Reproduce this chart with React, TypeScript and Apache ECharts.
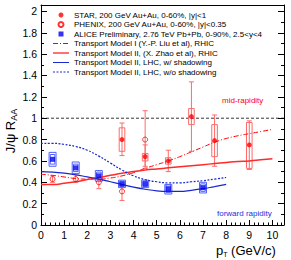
import React, { useEffect, useRef } from "react";
import * as echarts from "echarts";

// ---------------- data ----------------
const starPt = [3.5, 4.5, 5.5, 6.5, 7.5, 9];
const starVal = [0.8, 0.64, 0.6, 1.015, 0.79, 0.75];
const starStatLo = [0.65, 0.53, 0.5, 0.69, 0.55, 0.52];
const starStatHi = [0.955, 0.75, 0.7, 1.34, 1.03, 0.975];
const starSysLo = [0.69, 0.6, 0.57, 0.94, 0.64, 0.53];
const starSysHi = [0.91, 0.67, 0.63, 1.09, 0.94, 0.96];

const phxPt = [0.5, 1.5, 2.5, 3.5, 4.5];
const phxVal = [0.43, 0.43, 0.4, 0.315, 0.8];
const phxLo = [0.4, 0.4, 0.34, 0.23, 0.55];
const phxHi = [0.46, 0.48, 0.445, 0.37, 1.07];

const alicePt = [0.5, 1.5, 2.5, 3.5, 4.5, 5.5, 7];
const aliceVal = [0.615, 0.535, 0.46, 0.385, 0.385, 0.34, 0.35];
const aliceSysLo = [0.55, 0.48, 0.41, 0.35, 0.35, 0.29, 0.3];
const aliceSysHi = [0.68, 0.59, 0.51, 0.42, 0.42, 0.38, 0.4];
const aliceUncLo = [0.57, 0.5, 0.425, 0.36, 0.36, 0.305, 0.315];
const aliceUncHi = [0.66, 0.57, 0.495, 0.41, 0.41, 0.375, 0.385];

const rhicPt = [0, 0.5, 1, 1.5, 2, 2.5, 3, 3.5, 4, 4.5, 5, 5.5, 6, 6.5, 7, 7.5, 8, 8.5, 9, 9.5, 10];
const modelI = [0.475, 0.465, 0.45, 0.435, 0.43, 0.43, 0.44, 0.46, 0.49, 0.53, 0.565, 0.6, 0.64, 0.685, 0.73, 0.775, 0.81, 0.835, 0.855, 0.875, 0.895];
const modelIIRhic = [0.38, 0.38, 0.39, 0.405, 0.425, 0.445, 0.465, 0.485, 0.5, 0.515, 0.525, 0.535, 0.545, 0.555, 0.565, 0.575, 0.585, 0.595, 0.6, 0.61, 0.62];

const lhcPt = [0, 0.5, 1, 1.5, 2, 2.5, 3, 3.5, 4, 4.5, 5, 5.5, 6, 6.5, 7, 7.5, 8];
const lhcShadow = [0.5, 0.495, 0.485, 0.47, 0.45, 0.43, 0.405, 0.38, 0.355, 0.335, 0.32, 0.315, 0.315, 0.325, 0.34, 0.36, 0.38];
const lhcNoShadow = [0.765, 0.765, 0.755, 0.735, 0.7, 0.645, 0.58, 0.515, 0.46, 0.425, 0.405, 0.395, 0.395, 0.405, 0.415, 0.43, 0.445];

const refLine = [[0, 1], [10.5, 1]];

const xTicksMax = 10.5;
const yTicksMax = 2.06;

const NAMES = {
  star: "STAR, 200 GeV Au+Au, 0-60%, |y|<1",
  phx: "PHENIX, 200 GeV Au+Au, 0-60%, |y|<0.35",
  alice: "ALICE Preliminary, 2.76 TeV Pb+Pb, 0-90%, 2.5<y<4",
  m1: "Transport Model I (Y.-P. Liu et al), RHIC",
  m2: "Transport Model II, (X. Zhao et al), RHIC",
  lhc1: "Transport Model II, LHC, w/ shadowing",
  lhc2: "Transport Model II, LHC, w/o shadowing",
};

const FONT = "Liberation Sans, Arial, sans-serif";
const RED = "#ff0000";
const ERR_RED = "#ff6a6a";
const BLUE = "#0000ee";
const LINE_BLUE = "#1828d0";
const BOX_BLUE = "#5060ff";
const SQUARE = "path://M0,0L10,0L10,10L0,10Z";

export default function App() {
  const ref = useRef<HTMLDivElement>(null);
  useEffect(() => {
    if (!ref.current) return;
    const chart = echarts.init(ref.current, null, { renderer: "svg" });

    const starErr = starPt.map((x, i) => [x, starStatLo[i], starStatHi[i], starSysLo[i], starSysHi[i]]);
    const phxErr = phxPt.map((x, i) => [x, phxLo[i], phxHi[i]]);
    const aliceErr = alicePt.map((x, i) => [x, aliceSysLo[i], aliceSysHi[i], aliceUncLo[i], aliceUncHi[i]]);

    const zip = (xs: number[], ys: number[]) => xs.map((x, i) => [x, ys[i]]);
    const noSym = { opacity: 0 };

    const option: any = {
      animation: false,
      backgroundColor: "#fff",
      textStyle: { fontFamily: FONT },
      grid: { left: 41, right: 7, top: 5, bottom: 35, containLabel: false },
      xAxis: [
        {
          type: "value",
          min: 0,
          max: xTicksMax,
          interval: 1,
          position: "bottom",
          axisLine: { show: true, onZero: false, lineStyle: { color: "#000", width: 1 } },
          axisTick: { show: true, inside: true, length: 5, lineStyle: { color: "#000" } },
          minorTick: { show: true, splitNumber: 5, length: 2.5, lineStyle: { color: "#000" } },
          axisLabel: { color: "#000", fontSize: 10.5, margin: 4, fontFamily: FONT, showMaxLabel: false },
          splitLine: { show: false },
        },
        {
          type: "value",
          min: 0,
          max: xTicksMax,
          position: "top",
          axisLine: { show: true, onZero: false, lineStyle: { color: "#000", width: 1 } },
          axisTick: { show: false },
          axisLabel: { show: false },
          splitLine: { show: false },
        },
      ],
      yAxis: [
        {
          type: "value",
          min: 0,
          max: yTicksMax,
          interval: 0.2,
          position: "left",
          axisLine: { show: true, onZero: false, lineStyle: { color: "#000", width: 1 } },
          axisTick: { show: true, inside: true, length: 6, lineStyle: { color: "#000" } },
          minorTick: { show: true, splitNumber: 2, length: 3, lineStyle: { color: "#000" } },
          axisLabel: { color: "#000", fontSize: 10.5, margin: 4, fontFamily: FONT, showMaxLabel: false },
          splitLine: { show: false },
        },
        {
          type: "value",
          min: 0,
          max: yTicksMax,
          interval: 0.2,
          position: "right",
          axisLine: { show: true, onZero: false, lineStyle: { color: "#000", width: 1 } },
          axisTick: { show: true, inside: true, length: 6, lineStyle: { color: "#000" } },
          minorTick: { show: true, splitNumber: 2, length: 3, lineStyle: { color: "#000" } },
          axisLabel: { show: false },
          splitLine: { show: false },
        },
      ],
      legend: {
        orient: "vertical",
        left: 52,
        top: 10.25,
        padding: 0,
        itemGap: 0,
        itemWidth: 16,
        itemHeight: 5,
        selectedMode: false,
        textStyle: { fontSize: 8, lineHeight: 9.5, color: "#000", fontFamily: FONT },
        data: [
          { name: NAMES.star, icon: "circle" },
          { name: NAMES.phx, icon: "circle" },
          { name: NAMES.alice, icon: SQUARE },
          { name: NAMES.m1, itemStyle: noSym, lineStyle: { width: 1 } },
          { name: NAMES.m2, itemStyle: noSym, lineStyle: { width: 2, color: "#ff7070" } },
          { name: NAMES.lhc1, itemStyle: noSym, lineStyle: { width: 1 } },
          { name: NAMES.lhc2, itemStyle: noSym, lineStyle: { width: 1 } },
        ],
      },
      series: [
        {
          type: "line",
          data: refLine,
          symbol: "none",
          silent: true,
          lineStyle: { color: "#000", width: 0.8, type: [3, 2] },
          z: 1,
        },
        {
          type: "custom",
          data: starErr,
          z: 2,
          renderItem: (params: any, api: any) => {
            const x = api.value(0);
            const lo = api.coord([x, api.value(1)]);
            const hi = api.coord([x, api.value(2)]);
            const slo = api.coord([x, api.value(3)]);
            const shi = api.coord([x, api.value(4)]);
            const cap = 2.5;
            const bw = 2.8;
            const st = { stroke: ERR_RED, lineWidth: 1, fill: "none" };
            return {
              type: "group",
              children: [
                { type: "line", shape: { x1: lo[0], y1: lo[1], x2: hi[0], y2: hi[1] }, style: st },
                { type: "line", shape: { x1: lo[0] - cap, y1: lo[1], x2: lo[0] + cap, y2: lo[1] }, style: st },
                { type: "line", shape: { x1: hi[0] - cap, y1: hi[1], x2: hi[0] + cap, y2: hi[1] }, style: st },
                { type: "rect", shape: { x: shi[0] - bw, y: shi[1], width: 2 * bw, height: slo[1] - shi[1] }, style: st },
              ],
            };
          },
        },
        {
          type: "custom",
          data: phxErr,
          z: 2,
          renderItem: (params: any, api: any) => {
            const x = api.value(0);
            const lo = api.coord([x, api.value(1)]);
            const hi = api.coord([x, api.value(2)]);
            const cap = 2.5;
            const st = { stroke: ERR_RED, lineWidth: 1, fill: "none" };
            return {
              type: "group",
              children: [
                { type: "line", shape: { x1: lo[0], y1: lo[1], x2: hi[0], y2: hi[1] }, style: st },
                { type: "line", shape: { x1: lo[0] - cap, y1: lo[1], x2: lo[0] + cap, y2: lo[1] }, style: st },
                { type: "line", shape: { x1: hi[0] - cap, y1: hi[1], x2: hi[0] + cap, y2: hi[1] }, style: st },
              ],
            };
          },
        },
        {
          type: "custom",
          data: aliceErr,
          z: 2,
          renderItem: (params: any, api: any) => {
            const x = api.value(0);
            const slo = api.coord([x, api.value(1)]);
            const shi = api.coord([x, api.value(2)]);
            const ulo = api.coord([x, api.value(3)]);
            const uhi = api.coord([x, api.value(4)]);
            const bw = 3.5;
            const iw = 2.3;
            const st = { stroke: BOX_BLUE, lineWidth: 1, fill: "none" };
            return {
              type: "group",
              children: [
                { type: "rect", shape: { x: shi[0] - bw, y: shi[1], width: 2 * bw, height: slo[1] - shi[1] }, style: st },
                { type: "rect", shape: { x: uhi[0] - iw, y: uhi[1], width: 2 * iw, height: ulo[1] - uhi[1] }, style: st },
              ],
            };
          },
        },
        {
          name: NAMES.m1,
          type: "line",
          data: zip(rhicPt, modelI),
          symbol: "none",
          smooth: true,
          lineStyle: { color: RED, width: 1, type: [5, 2, 1, 2] },
          itemStyle: { color: RED },
          z: 2,
        },
        {
          name: NAMES.m2,
          type: "line",
          data: zip(rhicPt, modelIIRhic),
          symbol: "none",
          smooth: true,
          lineStyle: { color: "#ff2a2a", width: 1.5 },
          itemStyle: { color: "#ff2a2a" },
          z: 2,
        },
        {
          name: NAMES.lhc1,
          type: "line",
          data: zip(lhcPt, lhcShadow),
          symbol: "none",
          smooth: true,
          lineStyle: { color: LINE_BLUE, width: 1.2 },
          itemStyle: { color: LINE_BLUE },
          z: 2,
        },
        {
          name: NAMES.lhc2,
          type: "line",
          data: zip(lhcPt, lhcNoShadow),
          symbol: "none",
          smooth: true,
          lineStyle: { color: LINE_BLUE, width: 1.2, type: [2, 1.5] },
          itemStyle: { color: LINE_BLUE },
          z: 2,
        },
        {
          name: NAMES.star,
          type: "scatter",
          data: zip(starPt, starVal),
          symbol: "circle",
          symbolSize: 5,
          itemStyle: { color: RED },
          z: 4,
        },
        {
          name: NAMES.phx,
          type: "scatter",
          data: zip(phxPt, phxVal),
          symbol: "circle",
          symbolSize: 5,
          itemStyle: { color: "rgba(255,255,255,0)", borderColor: RED, borderWidth: 1 },
          z: 4,
        },
        {
          name: NAMES.alice,
          type: "scatter",
          data: zip(alicePt, aliceVal),
          symbol: "rect",
          symbolSize: 5,
          itemStyle: { color: BLUE },
          z: 4,
        },
      ],
      graphic: [
        {
          type: "text",
          x: 10,
          y: 131,
          rotation: Math.PI / 2,
          style: {
            text: "{a|J/ψ R}{b|AA}",
            align: "center",
            verticalAlign: "middle",
            fill: "#000",
            rich: {
              a: { fontSize: 13, fontFamily: FONT, fill: "#000" },
              b: { fontSize: 9, fontFamily: FONT, fill: "#000", padding: [8, 0, 0, 0] },
            },
          },
        },
        {
          type: "text",
          x: 216,
          y: 250,
          style: {
            text: "{a|p}{b|T}{a| (GeV/c)}",
            align: "left",
            verticalAlign: "middle",
            fill: "#000",
            rich: {
              a: { fontSize: 13, fontFamily: FONT, fill: "#000" },
              b: { fontSize: 7, fontFamily: FONT, fill: "#000", padding: [8, 0, 0, 0] },
            },
          },
        },
        {
          type: "text",
          x: 222,
          y: 100,
          style: { text: "mid-rapidity", fontSize: 8, fontFamily: FONT, fill: RED, align: "left", verticalAlign: "middle" },
        },
        {
          type: "text",
          x: 217,
          y: 213,
          style: { text: "forward rapidity", fontSize: 8, fontFamily: FONT, fill: "#2030e0", align: "left", verticalAlign: "middle" },
        },
      ],
    };

    chart.setOption(option);
    return () => chart.dispose();
  }, []);

  return <div ref={ref} style={{ position: "fixed", left: 0, top: 0, width: 291, height: 260 }} />;
}
